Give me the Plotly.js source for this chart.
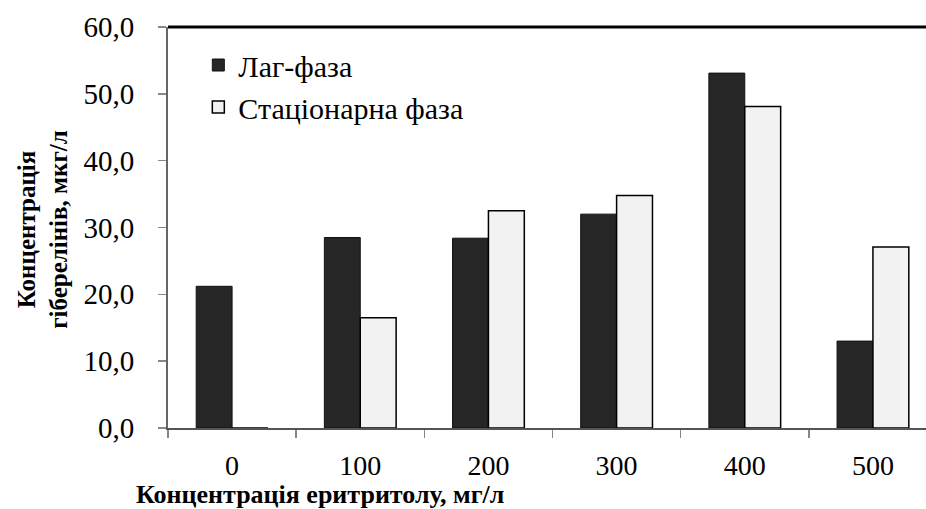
<!DOCTYPE html>
<html>
<head>
<meta charset="utf-8">
<script src="https://cdn.plot.ly/plotly-3.0.1.min.js"></script>
<style>html,body{margin:0;padding:0;overflow:hidden;background:#fff}#chart{width:926px;height:509px}</style>
</head>
<body>
<div id="chart"></div>
<script>
var categories = ['0', '100', '200', '300', '400', '500'];
var lagPhase = [21.2, 28.5, 28.4, 32.0, 53.1, 13.0];
var stationaryPhase = [0, 16.5, 32.5, 34.8, 48.1, 27.1];
var seriesNames = ['Лаг-фаза', 'Стаціонарна фаза'];
var yTicks = [0, 10, 20, 30, 40, 50, 60];
var xTitle = 'Концентрація еритритолу, мг/л';
var yTitle = 'Концентрація<br>гіберелінів, мкг/л';

var font = 'Liberation Serif, Times New Roman, serif';

var traces = [
  {type: 'bar', name: seriesNames[0], x: categories, y: lagPhase,
   marker: {color: '#262626', line: {color: '#111', width: 1}}},
  {type: 'bar', name: seriesNames[1], x: categories, y: stationaryPhase,
   marker: {color: '#f2f2f2', line: {color: '#000', width: 1.5}}}
];

var layout = {
  width: 926, height: 509,
  margin: {l: 168, r: 0, t: 27, b: 81},
  paper_bgcolor: '#fff', plot_bgcolor: '#fff',
  font: {family: font, size: 26, color: '#000'},
  separators: ',.',
  barmode: 'group', bargap: 0.44, bargroupgap: 0,
  showlegend: true,
  legend: {x: 0.04, y: 0.97, xanchor: 'left', yanchor: 'top', bgcolor: 'rgba(0,0,0,0)',
           font: {family: font, size: 30, color: '#000'}, tracegroupgap: 0, itemwidth: 30},
  xaxis: {
    type: 'category', range: [-0.5, 5.414],
    showline: true, linecolor: '#555', linewidth: 2,
    ticks: 'outside', tickson: 'boundaries', ticklen: 8, tickcolor: '#888', tickwidth: 1.5,
    ticklabelstandoff: 11,
    tickfont: {family: font, size: 28, color: '#000'},
    showgrid: false, zeroline: false
  },
  yaxis: {
    range: [0, 60], tickvals: yTicks, tickformat: '.1f',
    showline: true, linecolor: '#666', linewidth: 2,
    ticks: 'outside', ticklen: 8, tickcolor: '#888', tickwidth: 1.5,
    ticklabelstandoff: 18,
    tickfont: {family: font, size: 29, color: '#000'},
    showgrid: false, zeroline: false
  },
  annotations: [
    {text: '<b>' + xTitle + '</b>', xref: 'paper', yref: 'paper', x: 0.2, y: -0.166,
     xanchor: 'center', yanchor: 'middle', showarrow: false,
     font: {family: font, size: 26, color: '#000'}},
    {text: '<b>' + yTitle + '</b>', xref: 'paper', yref: 'paper', x: -0.208, y: 0.495,
     xanchor: 'left', yanchor: 'middle', textangle: -90, showarrow: false,
     font: {family: font, size: 25, color: '#000'}}
  ],
  shapes: [
    {type: 'line', xref: 'paper', yref: 'paper', x0: 0, x1: 1, y0: 1, y1: 1,
     line: {color: '#000', width: 3}}
  ]
};

Plotly.newPlot('chart', traces, layout, {displayModeBar: false, staticPlot: true});
</script>
</body>
</html>
